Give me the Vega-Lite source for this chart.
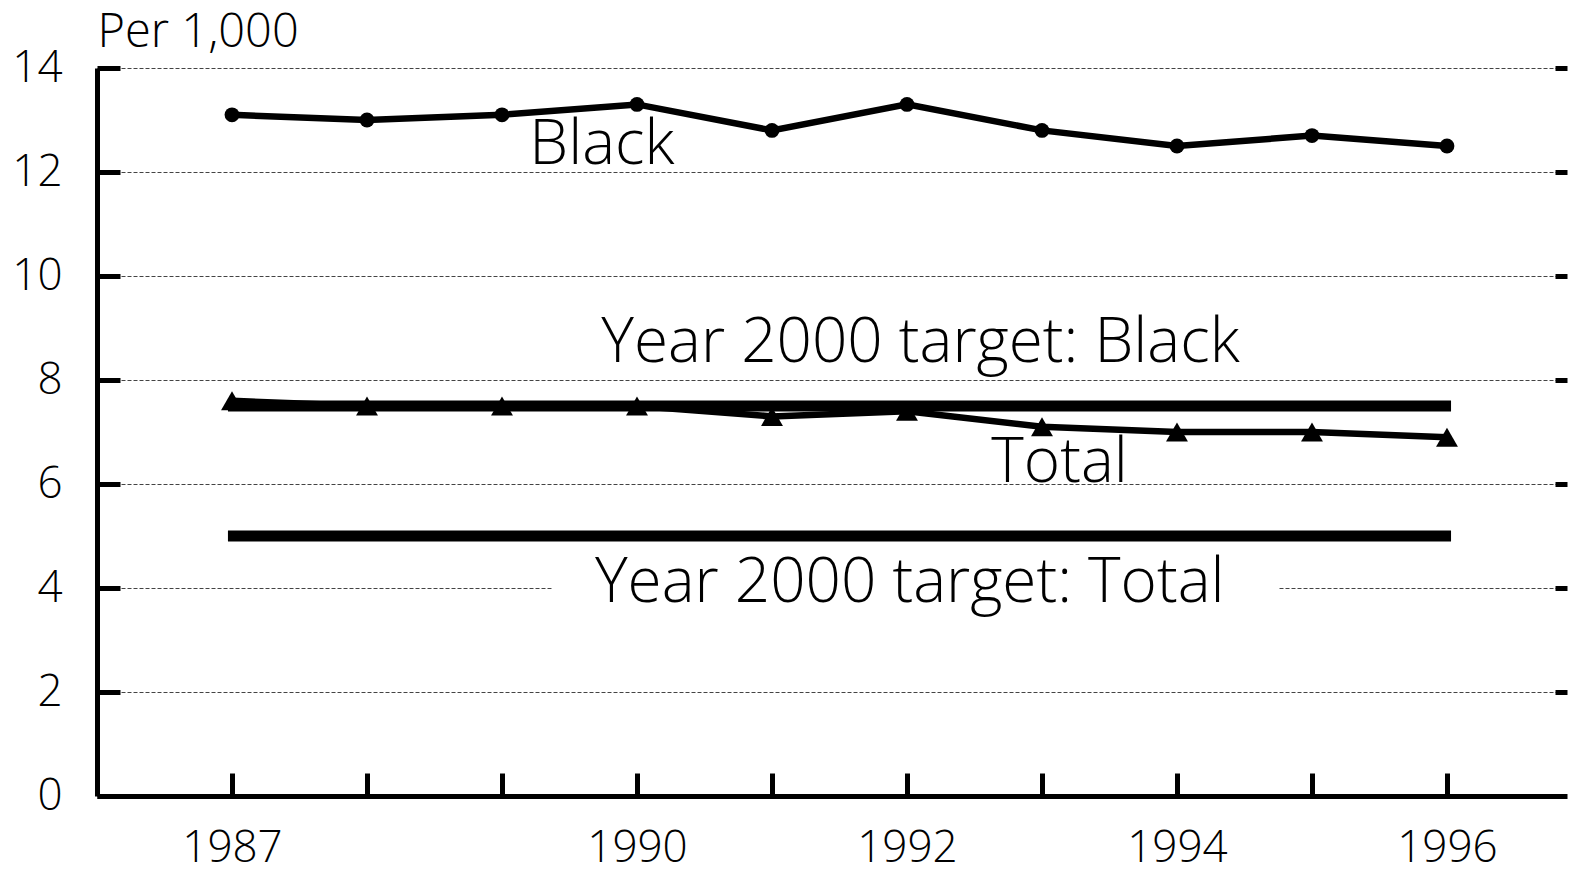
{
  "$schema": "https://vega.github.io/schema/vega-lite/v6.json",
  "width": 1470,
  "height": 728,
  "autosize": {"type": "none"},
  "padding": {"left": 97, "top": 68, "right": 4, "bottom": 75},
  "background": "white",
  "config": {
    "view": {"stroke": null},
    "font": "Open Sans",
    "axis": {"labelFont": "Open Sans", "titleFont": "Open Sans"}
  },
  "datasets": {
    "series": [
      {"year": 1987, "value": 13.1, "series": "Black"},
      {"year": 1988, "value": 13.0, "series": "Black"},
      {"year": 1989, "value": 13.1, "series": "Black"},
      {"year": 1990, "value": 13.3, "series": "Black"},
      {"year": 1991, "value": 12.8, "series": "Black"},
      {"year": 1992, "value": 13.3, "series": "Black"},
      {"year": 1993, "value": 12.8, "series": "Black"},
      {"year": 1994, "value": 12.5, "series": "Black"},
      {"year": 1995, "value": 12.7, "series": "Black"},
      {"year": 1996, "value": 12.5, "series": "Black"},
      {"year": 1987, "value": 7.6, "series": "Total"},
      {"year": 1988, "value": 7.5, "series": "Total"},
      {"year": 1989, "value": 7.5, "series": "Total"},
      {"year": 1990, "value": 7.5, "series": "Total"},
      {"year": 1991, "value": 7.3, "series": "Total"},
      {"year": 1992, "value": 7.4, "series": "Total"},
      {"year": 1993, "value": 7.1, "series": "Total"},
      {"year": 1994, "value": 7.0, "series": "Total"},
      {"year": 1995, "value": 7.0, "series": "Total"},
      {"year": 1996, "value": 6.9, "series": "Total"}
    ],
    "targets": [
      {"series": "Black", "start": 1986.97, "end": 1996.03, "value": 7.5},
      {"series": "Total", "start": 1986.97, "end": 1996.03, "value": 5.0}
    ],
    "labels": [
      {"text": "Black", "x": 1989.74, "y": 12.15},
      {"text": "Year 2000 target: Black", "x": 1992.1, "y": 8.35},
      {"text": "Total", "x": 1993.13, "y": 6.04},
      {"text": "Year 2000 target: Total", "x": 1992.02, "y": 3.73}
    ],
    "mask": [
      {"x1": 1989.37, "x2": 1994.75, "y1": 3.6, "y2": 4.4}
    ]
  },
  "layer": [
    {
      "data": {"name": "mask"},
      "mark": {"type": "rect", "color": "white"},
      "encoding": {
        "x": {
          "field": "x1", "type": "quantitative",
          "scale": {"domain": [1986, 1996.889], "nice": false, "zero": false},
          "axis": {
            "values": [1987, 1988, 1989, 1990, 1991, 1992, 1993, 1994, 1995, 1996],
            "format": "d",
            "labelExpr": "(datum.value == 1987 || datum.value == 1990 || datum.value == 1992 || datum.value == 1994 || datum.value == 1996) ? datum.label : ''",
            "title": null,
            "grid": false,
            "domainColor": "black",
            "domainWidth": 5,
            "tickColor": "black",
            "tickWidth": 5,
            "tickSize": -23,
            "labelFontSize": 44,
            "labelFontWeight": 300,
            "labelColor": "black",
            "labelPadding": 53,
            "labelFlush": false,
            "labelOverlap": false
          }
        },
        "x2": {"field": "x2"},
        "y": {
          "field": "y1", "type": "quantitative",
          "scale": {"domain": [0, 14], "nice": false},
          "axis": {
            "values": [0, 2, 4, 6, 8, 10, 12, 14],
            "title": "Per 1,000",
            "titleAngle": 0,
            "titleAlign": "left",
            "titleBaseline": "alphabetic",
            "titleX": 0,
            "titleY": -22,
            "titleFontSize": 47,
            "titleFontWeight": 300,
            "titleColor": "black",
            "grid": true,
            "gridColor": "#444",
            "gridWidth": 1,
            "gridDash": [4, 2],
            "domainColor": "black",
            "domainWidth": 5,
            "tickColor": "black",
            "tickWidth": 5,
            "tickSize": -23,
            "labelFontSize": 44,
            "labelFontWeight": 300,
            "labelColor": "black",
            "labelPadding": 58,
            "labelFlush": false,
            "labelOverlap": false
          }
        },
        "y2": {"field": "y2"}
      }
    },
    {
      "data": {"name": "targets"},
      "mark": {"type": "rule", "color": "black", "strokeWidth": 11},
      "encoding": {
        "x": {"field": "start", "type": "quantitative"},
        "x2": {"field": "end"},
        "y": {"field": "value", "type": "quantitative", "axis": null}
      }
    },
    {
      "data": {"name": "series"},
      "transform": [{"filter": "datum.series === 'Total'"}],
      "mark": {"type": "line", "color": "black", "strokeWidth": 6.5, "point": {"shape": "triangle-up", "size": 480, "color": "black", "filled": true}},
      "encoding": {
        "x": {"field": "year", "type": "quantitative"},
        "y": {"field": "value", "type": "quantitative", "axis": null}
      }
    },
    {
      "data": {"name": "series"},
      "transform": [{"filter": "datum.series === 'Black'"}],
      "mark": {"type": "line", "color": "black", "strokeWidth": 6.5, "point": {"shape": "circle", "size": 220, "color": "black", "filled": true}},
      "encoding": {
        "x": {"field": "year", "type": "quantitative"},
        "y": {"field": "value", "type": "quantitative", "axis": null}
      }
    },
    {
      "data": {"name": "labels"},
      "mark": {"type": "text", "fontSize": 62, "fontWeight": 300, "color": "black", "align": "center", "baseline": "alphabetic"},
      "encoding": {
        "x": {"field": "x", "type": "quantitative"},
        "y": {"field": "y", "type": "quantitative", "axis": null},
        "text": {"field": "text"}
      }
    },
    {
      "data": {"name": "mask"},
      "mark": {"type": "point", "opacity": 0},
      "encoding": {
        "y": {
          "field": "y1", "type": "quantitative",
          "axis": {
            "orient": "right",
            "values": [2, 4, 6, 8, 10, 12, 14],
            "domain": false,
            "labels": false,
            "grid": false,
            "title": null,
            "tickColor": "black",
            "tickWidth": 5,
            "tickSize": -12
          }
        }
      }
    }
  ],
  "resolve": {"axis": {"y": "independent"}}
}
